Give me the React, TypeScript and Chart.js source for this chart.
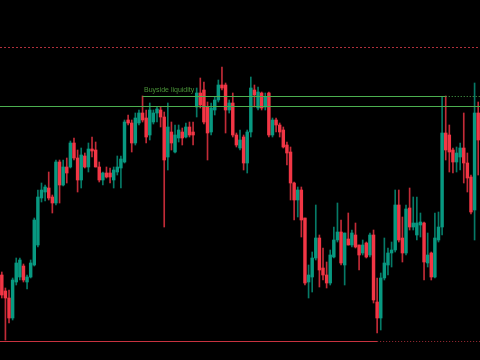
import React, { useEffect, useRef } from "react";
import { Chart, registerables } from "chart.js";

Chart.register(...registerables);

// OHLC values (price units = chart pixels from bottom)
const opens = [
  85, 69, 62, 42, 78, 83, 94, 78, 83, 95,
  115, 162, 168, 172, 163, 157, 198, 175, 193, 193,
  217, 202, 180, 204, 193, 211, 210, 193, 180, 187,
  187, 180, 188, 192, 198, 240, 237, 217, 237, 247,
  242, 225, 238, 247, 250, 243, 203, 228, 208, 222,
  228, 223, 233, 228, 253, 267, 270, 253, 228, 250,
  260, 275, 275, 250, 257, 225, 212, 223, 197, 228,
  270, 252, 267, 253, 267, 225, 240, 235, 230, 215,
  208, 177, 160, 170, 142, 78, 83, 102, 122, 92,
  85, 77, 103, 120, 128, 95, 121, 115, 125, 115,
  107, 117, 105, 125, 58, 42, 82, 95, 107, 110,
  155, 122, 107, 152, 133, 125, 135, 137, 97, 107,
  83, 120, 133, 227, 225, 210, 198, 203, 212, 197,
  183, 150, 247,
];
const closes = [
  65, 62, 42, 80, 97, 100, 80, 83, 97, 140,
  163, 170, 173, 162, 157, 198, 175, 193, 187, 217,
  202, 180, 205, 193, 211, 209, 193, 180, 187, 183,
  183, 190, 193, 201, 238, 237, 217, 242, 247, 240,
  223, 250, 247, 251, 243, 200, 233, 217, 225, 230,
  222, 233, 225, 225, 267, 255, 238, 227, 252, 260,
  275, 272, 250, 257, 225, 215, 220, 197, 228, 272,
  265, 268, 252, 263, 225, 240, 235, 228, 213, 207,
  177, 160, 170, 140, 77, 85, 102, 122, 90, 85,
  77, 105, 120, 128, 97, 127, 115, 127, 113, 105,
  115, 103, 125, 60, 42, 82, 97, 107, 110, 155,
  120, 107, 151, 133, 137, 137, 138, 98, 105, 83,
  122, 133, 227, 210, 208, 198, 207, 212, 197, 182,
  148, 247, 220,
];
const highs = [
  88, 72, 70, 82, 102, 102, 96, 85, 100, 142,
  170, 177, 175, 188, 165, 200, 200, 200, 202, 219,
  222, 210, 212, 207, 217, 223, 218, 198, 188, 193,
  192, 193, 204, 204, 240, 245, 240, 247, 250, 264,
  250, 257, 250, 253, 253, 248, 257, 238, 235, 235,
  232, 237, 238, 238, 272, 282, 278, 258, 257, 263,
  280, 293, 277, 260, 267, 227, 230, 225, 230, 283,
  275, 273, 268, 267, 268, 242, 242, 237, 233, 218,
  213, 178, 173, 173, 142, 95, 108, 155, 125, 112,
  98, 110, 133, 157, 140, 127, 147, 130, 137, 115,
  120, 118, 127, 130, 82, 87, 122, 112, 118, 170,
  170, 143, 155, 172, 163, 163, 147, 138, 127, 108,
  147, 148, 263, 264, 235, 212, 213, 217, 247, 207,
  185, 277, 258,
];
const lows = [
  62, 20, 37, 40, 75, 80, 78, 71, 82, 94,
  113, 158, 159, 160, 147, 155, 157, 174, 177, 192,
  200, 168, 172, 192, 188, 203, 193, 178, 175, 182,
  177, 172, 185, 172, 197, 235, 208, 215, 235, 238,
  217, 220, 236, 238, 233, 133, 190, 210, 207, 218,
  215, 222, 223, 215, 243, 252, 236, 200, 225, 245,
  258, 270, 227, 247, 223, 213, 210, 190, 187, 223,
  253, 250, 250, 250, 223, 223, 228, 223, 212, 195,
  160, 140, 143, 123, 75, 62, 68, 100, 73, 80,
  72, 75, 102, 118, 95, 75, 115, 113, 112, 90,
  105, 102, 103, 57, 27, 30, 80, 85, 93, 108,
  118, 98, 105, 130, 130, 120, 123, 80, 93, 80,
  82, 118, 125, 200, 188, 187, 188, 190, 177, 168,
  146, 120, 185,
];
const labels = opens.map((_, i) => `${i + 1}`);

// Horizontal levels
const upperDottedLevel = 313;
const buysideLevel = 264;
const greenLevel = 254;
const sellsideLevel = 19;
const buysideStartIdx = 39;
const buysideEndIdx = 123;
const sellsideEndIdx = 104;
const buysideText = "Buyside liquidity";

const UP = "#089981";
const DOWN = "#f23645";
const UP_WICK = "rgba(8,153,129,0.8)";
const DOWN_WICK = "rgba(242,54,69,0.8)";
const GREEN = "#4caf50";

export default function App() {
  const ref = useRef<HTMLCanvasElement>(null);

  useEffect(() => {
    document.body.style.margin = "0";
    document.body.style.background = "#000";
    const canvas = ref.current;
    if (!canvas) return;
    const colors = closes.map((c, i) => (c >= opens[i] ? UP : DOWN));
    const wickColors = closes.map((c, i) => (c >= opens[i] ? UP_WICK : DOWN_WICK));

    const levelsPlugin = {
      id: "levels",
      afterDatasetsDraw(chart: any) {
        const { ctx, chartArea, scales } = chart;
        const xs = scales.x;
        const ys = scales.y;
        const hline = (level: number, x0: number, x1: number, color: string, dash: number[]) => {
          const py = Math.round(ys.getPixelForValue(level)) + 0.5;
          ctx.save();
          ctx.strokeStyle = color;
          ctx.lineWidth = 1;
          ctx.setLineDash(dash);
          ctx.beginPath();
          ctx.moveTo(x0, py);
          ctx.lineTo(x1, py);
          ctx.stroke();
          ctx.restore();
        };
        const L = chartArea.left;
        const R = chartArea.right;
        hline(upperDottedLevel, L, R, "#b0303c", [2, 2]);
        hline(greenLevel, L, R, GREEN, []);
        const bx0 = xs.getPixelForValue(buysideStartIdx);
        const bx1 = xs.getPixelForValue(buysideEndIdx);
        hline(buysideLevel, bx0, bx1, GREEN, []);
        hline(buysideLevel, bx1, R, GREEN, [1, 2]);
        const sx1 = xs.getPixelForValue(sellsideEndIdx);
        hline(sellsideLevel, L, sx1, "#c8323f", []);
        hline(sellsideLevel, sx1, R, "#a02c36", [1, 2]);
        ctx.save();
        ctx.fillStyle = "#4a9439";
        ctx.font = "7px 'Liberation Sans', Arial, sans-serif";
        ctx.textBaseline = "alphabetic";
        ctx.fillText(buysideText, bx0 + 1.5, ys.getPixelForValue(buysideLevel) - 4.5);
        ctx.restore();
      },
    };

    const chart = new Chart(canvas, {
      type: "bar",
      data: {
        labels,
        datasets: [
          {
            label: "body",
            data: opens.map((o, i) => [o, closes[i]]) as any,
            backgroundColor: colors,
            barThickness: 2.8,
            grouped: false,
            order: 1,
            borderWidth: 0,
          },
          {
            label: "wick",
            data: lows.map((l, i) => [l, highs[i]]) as any,
            backgroundColor: wickColors,
            barThickness: 1,
            grouped: false,
            order: 2,
            borderWidth: 0,
          },
        ],
      },
      options: {
        responsive: false,
        animation: false,
        maintainAspectRatio: false,
        layout: { padding: 0 },
        plugins: { legend: { display: false }, tooltip: { enabled: false } },
        scales: {
          x: { type: "category", display: false, offset: true, grid: { display: false } },
          y: { display: false, min: 0, max: 360, grid: { display: false } },
        },
      },
      plugins: [levelsPlugin],
    });
    return () => chart.destroy();
  }, []);

  return (
    <div style={{ width: 480, height: 360, background: "#000" }}>
      <canvas ref={ref} width={480} height={360} style={{ display: "block" }} />
    </div>
  );
}
